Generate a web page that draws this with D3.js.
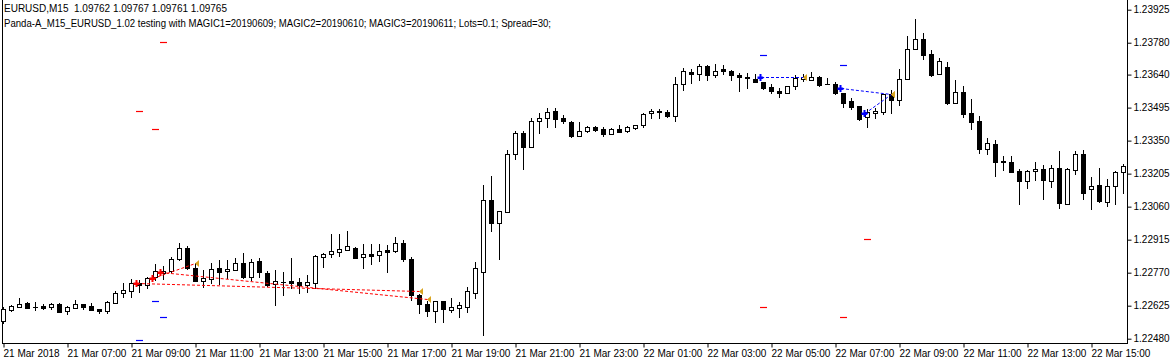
<!DOCTYPE html>
<html><head><meta charset="utf-8">
<script src="https://cdn.jsdelivr.net/npm/d3@7"></script>
<style>
body{margin:0;background:#fff;}
svg{display:block;}
text{font-family:"Liberation Sans",Arial,sans-serif;font-size:10px;fill:#000;white-space:pre;}
</style>
</head><body>
<svg id="c" width="1173" height="364"></svg>
<script>
const titleLine1 = "EURUSD,M15  1.09762 1.09767 1.09761 1.09765";
const titleLine2 = "Panda-A_M15_EURUSD_1.02 testing with MAGIC1=20190609; MAGIC2=20190610; MAGIC3=20190611; Lots=0.1; Spread=30;";

const open = [1.22559,1.22607,1.22621,1.22637,1.22618,1.22625,1.22621,1.22632,1.22600,1.22616,
1.22631,1.22624,1.22610,1.22603,1.22638,1.22682,1.22691,1.22725,1.22715,1.22750,
1.22767,1.22779,1.22829,1.22878,1.22790,1.22734,1.22741,1.22790,1.22776,1.22783,
1.22812,1.22751,1.22820,1.22768,1.22721,1.22730,1.22733,1.22727,1.22716,1.22726,
1.22838,1.22853,1.22860,1.22871,1.22880,1.22838,1.22851,1.22846,1.22870,1.22864,
1.22899,1.22829,1.22672,1.22631,1.22603,1.22644,1.22607,1.22616,1.22621,1.22682,
1.22774,1.23088,1.22990,1.23038,1.23291,1.23382,1.23321,1.23435,1.23448,1.23479,
1.23448,1.23431,1.23369,1.23391,1.23409,1.23400,1.23378,1.23400,1.23391,1.23407,
1.23418,1.23470,1.23479,1.23476,1.23457,1.23597,1.23650,1.23641,1.23676,1.23637,
1.23663,1.23654,1.23637,1.23628,1.23619,1.23606,1.23584,1.23568,1.23558,1.23591,
1.23622,1.23618,1.23628,1.23598,1.23599,1.23558,1.23524,1.23502,1.23452,1.23471,
1.23474,1.23553,1.23527,1.23619,1.23751,1.23795,1.23729,1.23641,1.23672,1.23514,
1.23562,1.23470,1.23435,1.23312,1.23334,1.23260,1.23256,1.23216,1.23172,1.23216,
1.23225,1.23172,1.23229,1.23072,1.23220,1.23291,1.23136,1.23154,1.23081,1.23149,
1.23211];
const high = [1.22618,1.22629,1.22657,1.22643,1.22641,1.22632,1.22635,1.22637,1.22624,1.22650,
1.22631,1.22635,1.22610,1.22646,1.22690,1.22725,1.22741,1.22738,1.22752,1.22808,
1.22799,1.22838,1.22900,1.22888,1.22811,1.22782,1.22811,1.22826,1.22826,1.22833,
1.22855,1.22829,1.22833,1.22778,1.22782,1.22773,1.22833,1.22745,1.22760,1.22848,
1.22855,1.22939,1.22940,1.22953,1.22883,1.22896,1.22896,1.22896,1.22892,1.22927,
1.22914,1.22838,1.22676,1.22646,1.22644,1.22644,1.22657,1.22640,1.22706,1.22817,
1.23154,1.23195,1.23040,1.23308,1.23391,1.23391,1.23448,1.23470,1.23492,1.23492,
1.23461,1.23435,1.23431,1.23413,1.23413,1.23409,1.23404,1.23418,1.23413,1.23418,
1.23470,1.23488,1.23488,1.23484,1.23628,1.23668,1.23663,1.23685,1.23681,1.23685,
1.23681,1.23659,1.23646,1.23646,1.23641,1.23606,1.23599,1.23580,1.23591,1.23638,
1.23641,1.23650,1.23632,1.23624,1.23606,1.23558,1.23536,1.23502,1.23490,1.23493,
1.23553,1.23572,1.23663,1.23809,1.23883,1.23821,1.23747,1.23712,1.23694,1.23615,
1.23589,1.23531,1.23457,1.23361,1.23352,1.23282,1.23282,1.23225,1.23221,1.23256,
1.23242,1.23242,1.23304,1.23229,1.23304,1.23308,1.23190,1.23230,1.23180,1.23216,
1.23247];
const low = [1.22550,1.22603,1.22618,1.22616,1.22606,1.22612,1.22609,1.22599,1.22590,1.22616,
1.22612,1.22607,1.22594,1.22594,1.22638,1.22665,1.22665,1.22686,1.22701,1.22738,
1.22741,1.22774,1.22826,1.22785,1.22734,1.22705,1.22726,1.22721,1.22745,1.22780,
1.22745,1.22738,1.22749,1.22713,1.22628,1.22672,1.22704,1.22682,1.22686,1.22701,
1.22797,1.22840,1.22844,1.22870,1.22833,1.22790,1.22807,1.22822,1.22774,1.22862,
1.22822,1.22650,1.22591,1.22581,1.22555,1.22555,1.22596,1.22577,1.22596,1.22660,
1.22496,1.22954,1.22828,1.23038,1.23271,1.23227,1.23321,1.23382,1.23409,1.23409,
1.23426,1.23367,1.23369,1.23387,1.23391,1.23369,1.23378,1.23387,1.23387,1.23400,
1.23409,1.23448,1.23448,1.23453,1.23438,1.23571,1.23602,1.23615,1.23615,1.23631,
1.23641,1.23615,1.23569,1.23580,1.23606,1.23575,1.23558,1.23543,1.23558,1.23575,
1.23613,1.23618,1.23591,1.23597,1.23553,1.23497,1.23488,1.23441,1.23409,1.23448,
1.23466,1.23473,1.23508,1.23619,1.23751,1.23707,1.23635,1.23641,1.23510,1.23514,
1.23455,1.23402,1.23295,1.23291,1.23196,1.23220,1.23210,1.23072,1.23143,1.23176,
1.23095,1.23147,1.23056,1.23072,1.23203,1.23095,1.23049,1.23079,1.23063,1.23072,
1.23118];
const close = [1.22610,1.22622,1.22632,1.22616,1.22619,1.22615,1.22632,1.22599,1.22619,1.22631,
1.22618,1.22607,1.22603,1.22643,1.22681,1.22694,1.22725,1.22716,1.22745,1.22778,
1.22779,1.22829,1.22878,1.22789,1.22734,1.22748,1.22786,1.22774,1.22786,1.22812,
1.22751,1.22817,1.22774,1.22716,1.22733,1.22730,1.22725,1.22716,1.22729,1.22843,
1.22851,1.22865,1.22875,1.22885,1.22836,1.22852,1.22845,1.22864,1.22860,1.22899,
1.22829,1.22670,1.22631,1.22602,1.22644,1.22609,1.22618,1.22627,1.22688,1.22790,
1.23088,1.22990,1.23040,1.23291,1.23382,1.23321,1.23435,1.23448,1.23474,1.23444,
1.23435,1.23370,1.23391,1.23409,1.23397,1.23378,1.23400,1.23387,1.23409,1.23418,
1.23466,1.23479,1.23474,1.23457,1.23597,1.23654,1.23641,1.23676,1.23637,1.23657,
1.23654,1.23637,1.23628,1.23627,1.23606,1.23583,1.23569,1.23558,1.23591,1.23626,
1.23631,1.23628,1.23596,1.23599,1.23558,1.23517,1.23499,1.23446,1.23476,1.23480,
1.23553,1.23527,1.23619,1.23751,1.23795,1.23727,1.23640,1.23698,1.23517,1.23562,
1.23468,1.23433,1.23312,1.23339,1.23258,1.23254,1.23214,1.23172,1.23216,1.23225,
1.23176,1.23229,1.23077,1.23225,1.23291,1.23121,1.23150,1.23086,1.23149,1.23211,
1.23237];

const priceTicks = [1.23925,1.23780,1.23640,1.23495,1.23350,1.23205,1.23060,1.22915,1.22770,1.22625,1.22480];
const timeTickBars = [0,8,16,24,32,40,48,56,64,72,80,88,96,104,112,120,128,136];
const timeTickLabels = ["21 Mar 2018","21 Mar 07:00","21 Mar 09:00","21 Mar 11:00","21 Mar 13:00","21 Mar 15:00",
"21 Mar 17:00","21 Mar 19:00","21 Mar 21:00","21 Mar 23:00","22 Mar 01:00","22 Mar 03:00","22 Mar 05:00",
"22 Mar 07:00","22 Mar 09:00","22 Mar 11:00","22 Mar 13:00","22 Mar 15:00"];

// trades
const sellOpenBar = [17,19,20];
const sellOpenPrice = [1.22723,1.22745,1.22775];
const sellCloseBar = [52,24,53];
const sellClosePrice = [1.22691,1.22811,1.22653];
const sellSL = [1.23480,1.23400,1.23785];
const sellTP = [1.22474,1.22646,1.22575];

const buyOpenBar = [95,105,108];
const buyOpenPrice = [1.23628,1.23580,1.23473];
const buyCloseBar = [100,111,111];
const buyClosePrice = [1.23628,1.23553,1.23553];
const buySL = [1.22619,1.22575,1.22916];
const buyTP = [1.23726,1.23682,null];

const svg = d3.select("#c");
const plotLeft = 2, plotRight = 1127, plotBottom = 343;

const x = d3.scaleLinear().domain([0, 140]).range([3.5, 1123.5]);
const y = d3.scaleLinear().domain([1.22480, 1.23925]).range([338.7, 9.7]);
const ry = v => Math.round(y(v));

// frame
svg.append("line").attr("x1", plotLeft + 0.5).attr("x2", plotLeft + 0.5).attr("y1", 0).attr("y2", plotBottom + 0.5)
  .attr("stroke", "#000").attr("stroke-width", 1);
svg.append("line").attr("x1", plotRight + 0.5).attr("x2", plotRight + 0.5).attr("y1", 0).attr("y2", plotBottom + 0.5)
  .attr("stroke", "#000").attr("stroke-width", 1);
svg.append("line").attr("x1", plotLeft).attr("x2", plotRight + 1).attr("y1", plotBottom + 0.5).attr("y2", plotBottom + 0.5)
  .attr("stroke", "#000").attr("stroke-width", 1);

// candles
const bars = d3.range(open.length).map(i => ({i, o: open[i], h: high[i], l: low[i], c: close[i]}));
const g = svg.append("g");
bars.forEach(d => {
  const xc = x(d.i);
  g.append("line").attr("x1", xc).attr("x2", xc).attr("y1", ry(d.h)).attr("y2", ry(d.l) + 1)
    .attr("stroke", "#000").attr("stroke-width", 1);
  const top = ry(Math.max(d.o, d.c)), bot = ry(Math.min(d.o, d.c));
  if (bot - top < 1) {
    g.append("line").attr("x1", xc - 2.5).attr("x2", xc + 2.5).attr("y1", top + 0.5).attr("y2", top + 0.5)
      .attr("stroke", "#000").attr("stroke-width", 1);
  } else if (d.c > d.o) {
    g.append("rect").attr("x", xc - 2).attr("y", top + 0.5).attr("width", 4).attr("height", bot - top)
      .attr("fill", "#fff").attr("stroke", "#000").attr("stroke-width", 1);
  } else {
    g.append("rect").attr("x", xc - 2.5).attr("y", top).attr("width", 5).attr("height", bot - top + 1)
      .attr("fill", "#000");
  }
});

// trade lines, arrows, sl/tp dashes
function drawTrades(ob, op, cb, cp, sl, tp, color) {
  ob.forEach((b, k) => {
    g.append("line").attr("x1", x(b) - 2.5).attr("y1", ry(op[k]) + 0.5)
      .attr("x2", x(cb[k])).attr("y2", ry(cp[k]) + 0.5)
      .attr("stroke", color).attr("stroke-width", 1).attr("stroke-dasharray", "3,2");
  });
  ob.forEach((b, k) => {
    if (sl[k] != null)
      g.append("line").attr("x1", x(b) - 3.5).attr("x2", x(b) + 3.5).attr("y1", ry(sl[k]) + 0.5).attr("y2", ry(sl[k]) + 0.5)
        .attr("stroke", "#ff0000").attr("stroke-width", 1.2);
    if (tp[k] != null)
      g.append("line").attr("x1", x(b) - 3.5).attr("x2", x(b) + 3.5).attr("y1", ry(tp[k]) + 0.5).attr("y2", ry(tp[k]) + 0.5)
        .attr("stroke", "#0000ff").attr("stroke-width", 1.2);
  });
  ob.forEach((b, k) => {
    const cx = x(b) - 3, cy = ry(op[k]) + 0.5;
    const p = `M${cx-3},${cy-1} H${cx-1} V${cy-3.5} H${cx+1} V${cy-1} H${cx+2} L${cx+4},${cy} L${cx+2},${cy+1.5} H${cx+1} V${cy+3.5} H${cx-1} V${cy+1.5} H${cx-3} Z`;
    g.append("path").attr("d", p).attr("fill", color);
  });
  cb.forEach((b, k) => {
    const tx = x(b) - 0.5, ty = ry(cp[k]) + 0.5;
    g.append("path").attr("d", `M${tx},${ty} L${tx+4},${ty-3.5} L${tx+4},${ty+3.5} Z`).attr("fill", "#DAA520");
  });
}
drawTrades(sellOpenBar, sellOpenPrice, sellCloseBar, sellClosePrice, sellSL, sellTP, "#ff0000");
drawTrades(buyOpenBar, buyOpenPrice, buyCloseBar, buyClosePrice, buySL, buyTP, "#0000ff");

// right price axis
const ya = d3.axisRight(y).tickValues(priceTicks).tickFormat(d3.format(".5f")).tickSize(4).tickPadding(2);
const yAxisG = svg.append("g").attr("transform", `translate(${plotRight + 0.5},0)`).call(ya);
yAxisG.select(".domain").remove();
yAxisG.selectAll("text").attr("font-family", "Liberation Sans, Arial, sans-serif").attr("font-size", 10).attr("fill", "#000");
yAxisG.selectAll("line").attr("stroke", "#000");

// bottom time axis
const xa = d3.axisBottom(x).tickValues(timeTickBars).tickFormat((d, i) => timeTickLabels[i]).tickSize(4).tickPadding(2);
const xAxisG = svg.append("g").attr("transform", `translate(0,${plotBottom + 0.5})`).call(xa);
xAxisG.select(".domain").remove();
xAxisG.selectAll("text").attr("text-anchor", "start").attr("dx", "-0.5")
  .attr("font-family", "Liberation Sans, Arial, sans-serif").attr("font-size", 10).attr("fill", "#000");
xAxisG.selectAll("line").attr("stroke", "#000");

// titles
svg.append("text").attr("x", 4).attr("y", 12).attr("xml:space", "preserve").text(titleLine1);
svg.append("text").attr("x", 4).attr("y", 27).attr("textLength", 547).attr("lengthAdjust", "spacingAndGlyphs").text(titleLine2);
</script>
</body></html>
